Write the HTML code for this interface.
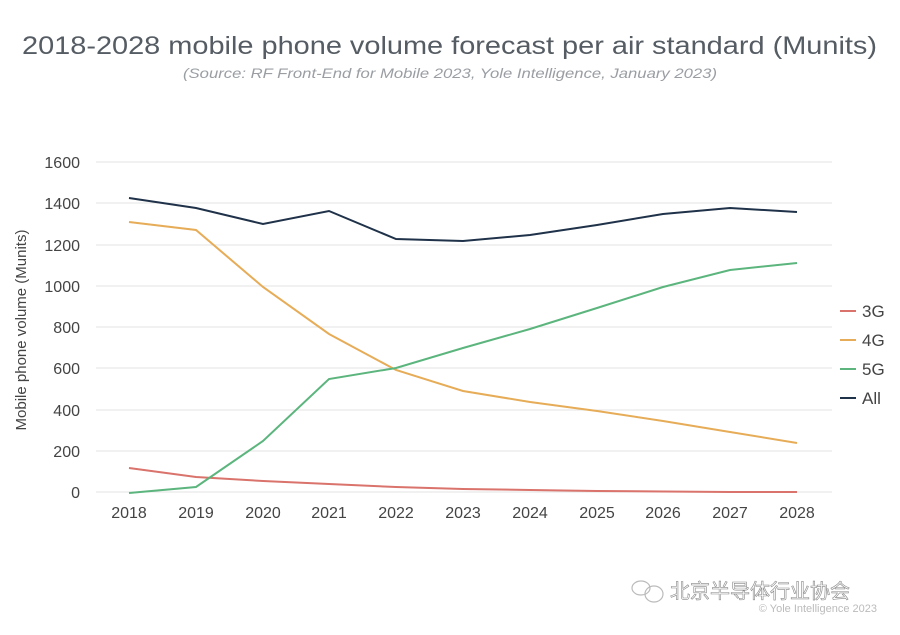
<!DOCTYPE html>
<html><head><meta charset="utf-8"><style>
body{margin:0;background:#fff;}
svg text{font-family:"Liberation Sans","Noto Sans CJK SC",sans-serif;}
</style></head><body>
<svg width="900" height="630" viewBox="0 0 900 630" xmlns="http://www.w3.org/2000/svg">
<rect width="900" height="630" fill="#fff"/>
<text x="22" y="54" font-size="25" fill="#555c63" textLength="855" lengthAdjust="spacingAndGlyphs">2018-2028 mobile phone volume forecast per air standard (Munits)</text>
<text x="183" y="78" font-size="14" font-style="italic" fill="#9a9ea3" textLength="534" lengthAdjust="spacingAndGlyphs">(Source: RF Front-End for Mobile 2023, Yole Intelligence, January 2023)</text>
<g stroke="#e3e3e3" stroke-width="1">
<line x1="96" y1="162" x2="832" y2="162"/><line x1="96" y1="203" x2="832" y2="203"/>
<line x1="96" y1="245" x2="832" y2="245"/><line x1="96" y1="286" x2="832" y2="286"/>
<line x1="96" y1="327" x2="832" y2="327"/><line x1="96" y1="368" x2="832" y2="368"/>
<line x1="96" y1="410" x2="832" y2="410"/><line x1="96" y1="451" x2="832" y2="451"/>
<line x1="96" y1="492" x2="832" y2="492"/>
</g>
<g font-size="16" fill="#444" text-anchor="end">
<text x="80" y="168">1600</text><text x="80" y="209">1400</text><text x="80" y="251">1200</text>
<text x="80" y="292">1000</text><text x="80" y="333">800</text><text x="80" y="374">600</text>
<text x="80" y="416">400</text><text x="80" y="457">200</text><text x="80" y="498">0</text>
</g>
<g font-size="16" fill="#444" text-anchor="middle">
<text x="129" y="518">2018</text><text x="196" y="518">2019</text><text x="263" y="518">2020</text>
<text x="329" y="518">2021</text><text x="396" y="518">2022</text><text x="463" y="518">2023</text>
<text x="530" y="518">2024</text><text x="597" y="518">2025</text><text x="663" y="518">2026</text>
<text x="730" y="518">2027</text><text x="797" y="518">2028</text>
</g>
<text transform="translate(26,330) rotate(-90)" text-anchor="middle" font-size="15" fill="#444">Mobile phone volume (Munits)</text>
<g fill="none" stroke-width="2">
<polyline stroke="#d9736b" points="129,468 196,477 263,481 329,484 396,487 463,489 530,490 597,491 663,491.5 730,492 797,492"/>
<polyline stroke="#e6ac57" points="129,222 196,230 263,287 329,334 396,370 463,391 530,402 597,411 663,421 730,432 797,443"/>
<polyline stroke="#5bb57d" points="129,493 196,487 263,441 329,379 396,368 463,348 530,329 597,308 663,287 730,270 797,263"/>
<polyline stroke="#1f3249" points="129,198 196,208 263,224 329,211 396,239 463,241 530,235 597,225 663,214 730,208 797,212"/>
</g>
<g stroke-width="2">
<line x1="840" y1="311" x2="856" y2="311" stroke="#d9736b"/>
<line x1="840" y1="340" x2="856" y2="340" stroke="#e6ac57"/>
<line x1="840" y1="369" x2="856" y2="369" stroke="#5bb57d"/>
<line x1="840" y1="398" x2="856" y2="398" stroke="#1f3249"/>
</g>
<g font-size="17" fill="#444">
<text x="862" y="317">3G</text><text x="862" y="346">4G</text><text x="862" y="375">5G</text><text x="862" y="404">All</text>
</g>
<g fill="none" stroke="#bbb" stroke-width="1.2">
<ellipse cx="641" cy="588" rx="9" ry="7"/><ellipse cx="654" cy="594" rx="9" ry="8"/>
</g>
<text x="670" y="598" font-size="20" fill="#fff" stroke="#888" stroke-width="0.6">北京半导体行业协会</text>
<text x="877" y="612" text-anchor="end" font-size="11" fill="#bbb">© Yole Intelligence 2023</text>
</svg>
</body></html>
